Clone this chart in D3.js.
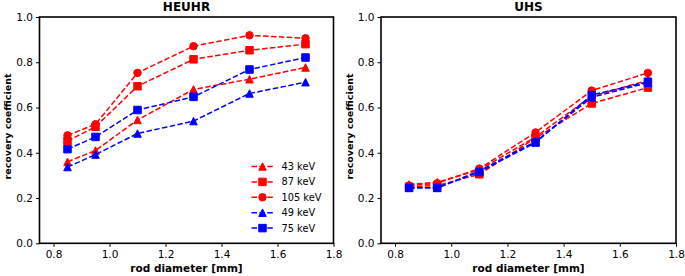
<!DOCTYPE html>
<html><head><meta charset="utf-8">
<script src="https://cdn.jsdelivr.net/npm/d3@7"></script>
<style>body{margin:0;background:#fff}svg{display:block;font-family:"DejaVu Sans",sans-serif}</style>
</head><body><svg id="c" width="685" height="276"></svg>
<script>
const diameters = [0.85, 0.95, 1.1, 1.3, 1.5, 1.7];
const seriesNames = ["43 keV", "87 keV", "105 keV", "49 keV", "75 keV"];
const seriesColors = ["#ff0000", "#ff0000", "#ff0000", "#0000ff", "#0000ff"];
const seriesMarkers = ["triangle", "square", "circle", "triangle", "square"];
const heuhr43 = [0.36, 0.41, 0.545, 0.68, 0.725, 0.777];
const heuhr87 = [0.452, 0.515, 0.694, 0.813, 0.853, 0.88];
const heuhr105 = [0.477, 0.526, 0.753, 0.871, 0.919, 0.906];
const heuhr49 = [0.337, 0.392, 0.485, 0.54, 0.662, 0.712];
const heuhr75 = [0.416, 0.47, 0.589, 0.647, 0.768, 0.821];
const uhs43 = [0.26, 0.27, 0.325, 0.47, 0.65, 0.72];
const uhs87 = [0.25, 0.255, 0.305, 0.465, 0.618, 0.688];
const uhs105 = [0.255, 0.265, 0.33, 0.49, 0.675, 0.753];
const uhs49 = [0.245, 0.245, 0.32, 0.45, 0.645, 0.71];
const uhs75 = [0.245, 0.245, 0.315, 0.445, 0.655, 0.714];
const xTicks = [0.8, 1.0, 1.2, 1.4, 1.6, 1.8];
const yTicks = [0.0, 0.2, 0.4, 0.6, 0.8, 1.0];
const panels = [
  {title: "HEUHR", series: [heuhr43, heuhr87, heuhr105, heuhr49, heuhr75], left: 39.5, right: 333.5, legend: true, ylabX: 10.5},
  {title: "UHS", series: [uhs43, uhs87, uhs105, uhs49, uhs75], left: 381, right: 676, legend: false, ylabX: 352.5}
];
const plotTop = 17, plotBottom = 243.3;
const svg = d3.select("#c");
const ms = 7.5;
function markerPath(type, s) {
  const h = s / 2;
  if (type === "square") return `M${-h},${-h}H${h}V${h}H${-h}Z`;
  if (type === "triangle") return `M0,${-h}L${h},${h}L${-h},${h}Z`;
  return d3.arc()({innerRadius: 0, outerRadius: h, startAngle: 0, endAngle: 2 * Math.PI});
}
panels.forEach(p => {
  const x = d3.scaleLinear().domain([0.75, 1.8]).range([p.left, p.right]);
  const y = d3.scaleLinear().domain([0, 1]).range([plotBottom, plotTop]);
  const g = svg.append("g");
  const xa = g.append("g").attr("transform", `translate(0,${plotBottom})`)
    .call(d3.axisBottom(x).tickValues(xTicks).tickFormat(d3.format(".1f")).tickSize(3.5).tickPadding(4.2));
  const ya = g.append("g").attr("transform", `translate(${p.left},0)`)
    .call(d3.axisLeft(y).tickValues(yTicks).tickFormat(d3.format(".1f")).tickSize(3.5).tickPadding(3));
  [xa, ya].forEach(a => {
    a.select(".domain").remove();
    a.selectAll("line").attr("stroke", "#000").attr("stroke-width", 1);
    a.selectAll("text").attr("font-size", "10.5px").attr("fill", "#000").attr("font-family", "DejaVu Sans");
  });
  const data = g.append("g");
  p.series.forEach((vals, i) => {
    const pts = diameters.map((d, j) => [x(d), y(vals[j])]);
    data.append("path").attr("d", d3.line()(pts)).attr("fill", "none")
      .attr("stroke", seriesColors[i]).attr("stroke-width", 1.5).attr("stroke-dasharray", "5.5,2.4");
    data.selectAll(null).data(pts).enter().append("path")
      .attr("d", markerPath(seriesMarkers[i], ms))
      .attr("transform", d => `translate(${d[0]},${d[1]})`)
      .attr("fill", seriesColors[i]).attr("stroke", seriesColors[i]).attr("stroke-width", 1);
  });
  g.append("rect").attr("x", p.left).attr("y", plotTop).attr("width", p.right - p.left).attr("height", plotBottom - plotTop)
    .attr("fill", "none").attr("stroke", "#000").attr("stroke-width", 1.6);
  g.append("text").attr("x", (p.left + p.right) / 2).attr("y", 11.3).attr("text-anchor", "middle")
    .attr("font-size", "12px").attr("font-weight", "bold").text(p.title);
  g.append("text").attr("x", (p.left + p.right) / 2).attr("y", 272.3).attr("text-anchor", "middle")
    .attr("font-size", "10.5px").attr("font-weight", "bold").text("rod diameter [mm]");
  g.append("text").attr("transform", `translate(${p.ylabX},126.5) rotate(-90)`)
    .attr("text-anchor", "middle").attr("font-size", "9.5px").attr("font-weight", "bold").text("recovery coefficient");
  if (p.legend) {
    const lg = g.append("g");
    seriesNames.forEach((n, i) => {
      const yy = 166.5 + i * 15.4;
      lg.append("line").attr("x1", 251.5).attr("x2", 273.5).attr("y1", yy).attr("y2", yy)
        .attr("stroke", seriesColors[i]).attr("stroke-width", 1.5).attr("stroke-dasharray", "5.5,2.4");
      lg.append("path").attr("d", markerPath(seriesMarkers[i], ms)).attr("transform", `translate(262.5,${yy})`)
        .attr("fill", seriesColors[i]).attr("stroke", seriesColors[i]).attr("stroke-width", 1);
      lg.append("text").attr("x", 281.5).attr("y", yy).attr("dy", "0.35em").attr("font-size", "9.8px").text(n);
    });
  }
});
</script></body></html>
